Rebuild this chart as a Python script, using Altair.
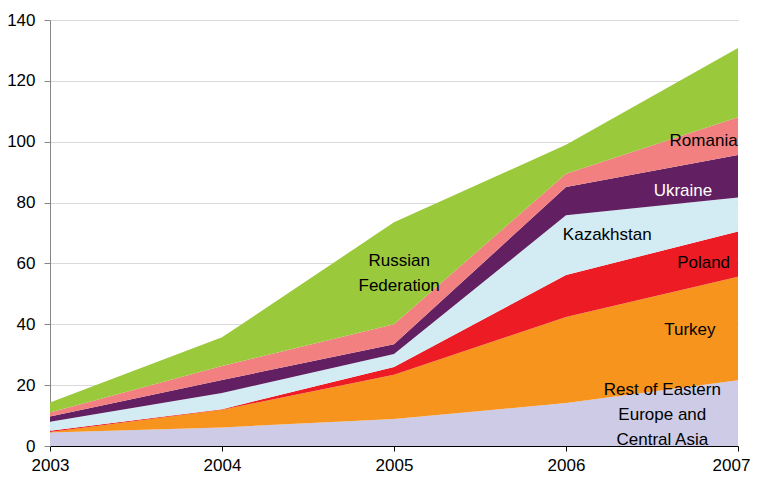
import altair as alt
import pandas as pd

years = [2003, 2004, 2005, 2006, 2007]
series = ["Rest of Eastern Europe and Central Asia", "Turkey", "Poland",
          "Kazakhstan", "Ukraine", "Romania", "Russian Federation"]
rest = [4.4, 6.1, 8.9, 14.1, 21.6]
turkey = [0.2, 5.8, 14.5, 28.3, 34.0]
poland = [0.4, 0.2, 2.6, 13.8, 14.9]
kazakhstan = [3.0, 5.3, 4.2, 19.6, 11.2]
ukraine = [1.7, 4.3, 3.2, 9.3, 13.9]
romania = [1.3, 4.6, 6.6, 4.4, 12.4]
russia = [3.3, 9.4, 33.5, 9.5, 22.8]
colors = ["#CDCBE5", "#F7941D", "#ED1C24", "#D3ECF3", "#621F61", "#F28080", "#9BC93C"]

# in-area labels (data coordinates of the first text line)
label_text = ["Russian\nFederation", "Romania", "Ukraine", "Kazakhstan", "Poland",
              "Turkey", "Rest of Eastern\nEurope and\nCentral Asia"]
label_x = [2005.03, 2006.80, 2006.68, 2006.24, 2006.80, 2006.72, 2006.56]
label_y = [60.7, 100.1, 83.7, 69.3, 60.0, 38.1, 18.5]
label_color = ["#000000", "#000000", "#FFFFFF", "#000000", "#000000", "#000000", "#000000"]

values = [rest, turkey, poland, kazakhstan, ukraine, romania, russia]
rows = []
for i, (name, vals) in enumerate(zip(series, values)):
    for yr, v in zip(years, vals):
        rows.append({"year": yr, "series": name, "value": v, "order": i})
df = pd.DataFrame(rows)

labels = pd.DataFrame({"text": label_text, "x": label_x, "y": label_y, "c": label_color})

FONT = "Liberation Sans"

xscale = alt.Scale(domain=[2003, 2007], nice=False, zero=False)
yscale = alt.Scale(domain=[0, 140], nice=False)

area = alt.Chart(df).mark_area(opacity=1).encode(
    x=alt.X("year:Q", scale=xscale,
            axis=alt.Axis(values=years, format="d", title=None, grid=False,
                          domainColor="#000000", tickColor="#000000", tickSize=5,
                          labelPadding=6, labelFontSize=17, labelColor="#000000",
                          labelFont=FONT, labelFlush=False,
                          labelOffset={"condition": {"test": "datum.value == 2007", "value": -7},
                                       "value": 0})),
    y=alt.Y("value:Q", stack="zero", scale=yscale,
            axis=alt.Axis(values=list(range(0, 141, 20)), title=None, grid=True,
                          gridColor="#D9D9D9", domainColor="#868686", tickColor="#868686",
                          tickSize=6, labelPadding=9, labelFontSize=17,
                          labelColor="#000000", labelFont=FONT)),
    color=alt.Color("series:N", scale=alt.Scale(domain=series, range=colors), legend=None),
    order=alt.Order("order:Q", sort="ascending"),
)

text = alt.Chart(labels).mark_text(font=FONT, fontSize=17, lineBreak="\n", lineHeight=25,
                                   align="center", baseline="middle").encode(
    x=alt.X("x:Q", scale=xscale),
    y=alt.Y("y:Q", scale=yscale),
    text="text:N",
    color=alt.Color("c:N", scale=None),
)

chart = alt.layer(area, text).properties(
    width=688, height=426,
    autosize=alt.AutoSizeParams(type="none"),
    padding={"left": 42, "top": 12, "right": 13, "bottom": 28},
).configure_view(stroke=None)

chart.save("out.html", embed_options={"renderer": "svg", "actions": False})
